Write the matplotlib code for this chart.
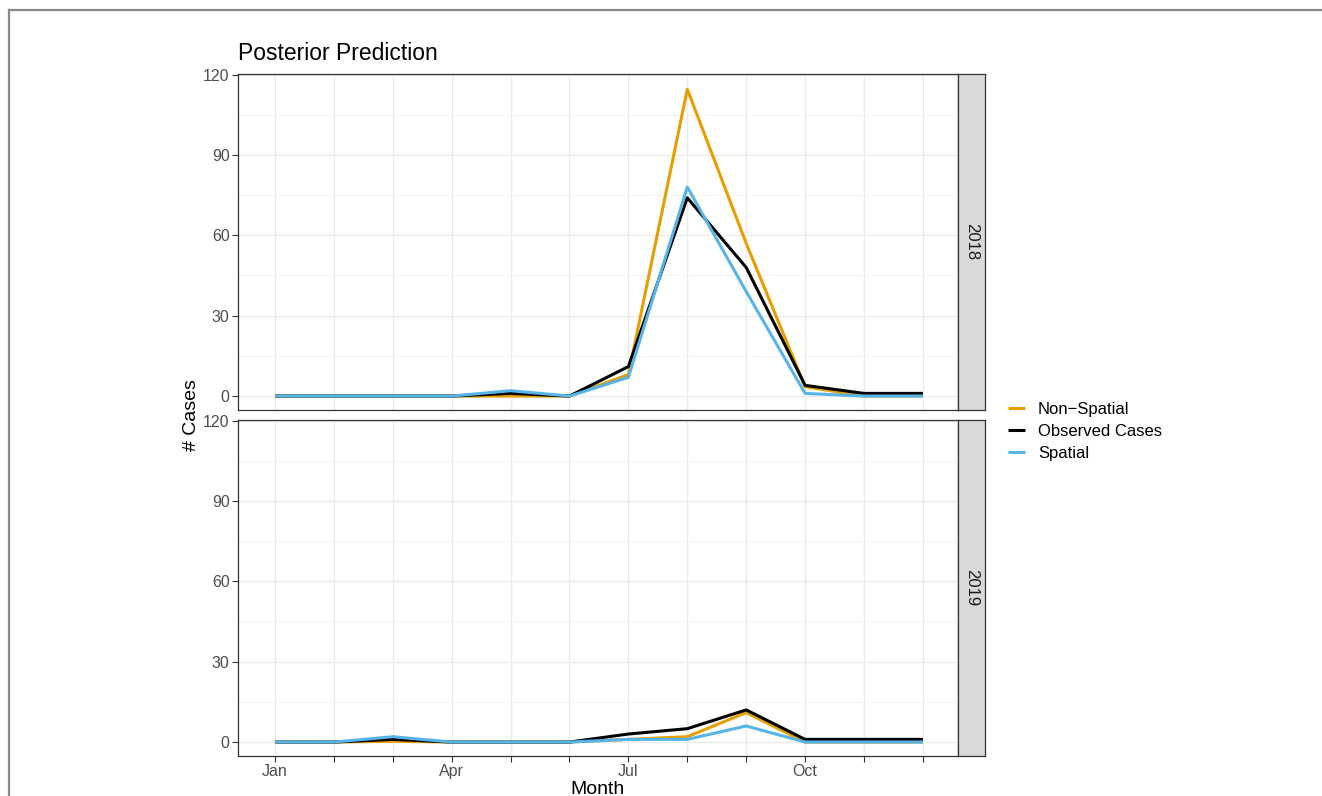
import matplotlib
matplotlib.use('Agg')
import matplotlib.pyplot as plt
from matplotlib.lines import Line2D

plt.rcParams['font.family'] = ['Liberation Sans', 'DejaVu Sans']

months = list(range(1, 13))
month_labels = ['Jan', '', '', 'Apr', '', '', 'Jul', '', '', 'Oct', '', '']
years = ['2018', '2019']

# posterior predictions per year
non_spatial = {
    '2018': [0, 0, 0, 0, 0, 0, 8, 114.5, 57, 3.5, 0, 0],
    '2019': [0, 0, 0.3, 0, 0, 0, 1, 2, 11, 0, 0, 0],
}
observed = {
    '2018': [0, 0, 0, 0, 1, 0, 11, 74, 48, 4, 1, 1],
    '2019': [0, 0, 1, 0, 0, 0, 3, 5, 12, 1, 1, 1],
}
spatial = {
    '2018': [0, 0, 0, 0, 2, 0, 7, 78, 39, 1, 0, 0],
    '2019': [0, 0, 2, 0, 0, 0, 1, 1, 6, 0, 0, 0],
}

series = [('Non\u2212Spatial', non_spatial, '#E69F00'),
          ('Observed Cases', observed, '#000000'),
          ('Spatial', spatial, '#56B4E9')]

W, H = 1322, 796
fig = plt.figure(figsize=(W / 100, H / 100), dpi=100)


def fx(px):
    return px / W


def fy(px):
    return 1 - px / H


left, right = 238, 958
strip_r = 985
panels = [(74, 410), (420, 756)]

axes = []
for i, (yr, (top, bot)) in enumerate(zip(years, panels)):
    ax = fig.add_axes([fx(left), fy(bot), fx(right - left), (bot - top) / H])
    for x in months:
        ax.axvline(x, color='#ebebeb', lw=1.0, zorder=0)
    for y in [15, 45, 75, 105]:
        ax.axhline(y, color='#f4f4f4', lw=0.8, zorder=0)
    for y in [0, 30, 60, 90, 120]:
        ax.axhline(y, color='#ebebeb', lw=1.0, zorder=0)
    for name, data, col in series:
        ax.plot(months, data[yr], color=col, lw=2.2, label=name,
                solid_capstyle='butt', zorder=3)
    ax.set_xlim(0.372, 12.596)
    ax.set_ylim(-5.2, 120.2)
    ax.set_yticks([0, 30, 60, 90, 120])
    ax.set_xticks(months)
    ax.tick_params(axis='both', colors='#333333', labelcolor='#4d4d4d',
                   labelsize=11.5, length=4, width=0.8, pad=2)
    if i == 0:
        ax.tick_params(axis='x', length=0, labelbottom=False)
    else:
        ax.set_xticklabels(month_labels)
    for s in ax.spines.values():
        s.set_color('#333333')
        s.set_linewidth(0.9)

    # facet strip
    sax = fig.add_axes([fx(right), fy(bot), fx(strip_r - right), (bot - top) / H])
    sax.set_xticks([])
    sax.set_yticks([])
    sax.set_facecolor('#d9d9d9')
    for s in sax.spines.values():
        s.set_color('#333333')
        s.set_linewidth(0.9)
    sax.text(0.5, 0.5, yr, rotation=-90, ha='center', va='center',
             fontsize=12, color='#1a1a1a', transform=sax.transAxes)
    axes.append(ax)

fig.text(fx(left), fy(53), 'Posterior Prediction', fontsize=16.5,
         ha='left', va='center', color='#000000')
fig.text(fx(191), fy(415), '# Cases', rotation=90, fontsize=14,
         ha='center', va='center')
fig.text(fx(598), fy(789), 'Month', fontsize=14, ha='center', va='center')

handles, labels = axes[0].get_legend_handles_labels()
fig.legend(handles, labels, loc='center left', bbox_to_anchor=(fx(1008), fy(431)),
           frameon=False, fontsize=12, handlelength=1.0, handletextpad=0.8,
           labelspacing=0.42, borderpad=0, borderaxespad=0)

# outer frame
fig.add_artist(Line2D([fx(9), fx(9)], [fy(10), 0], color='#888888', lw=1.6))
fig.add_artist(Line2D([fx(9), 1], [fy(10), fy(10)], color='#888888', lw=1.6))

fig.savefig('out.png', dpi=100)
